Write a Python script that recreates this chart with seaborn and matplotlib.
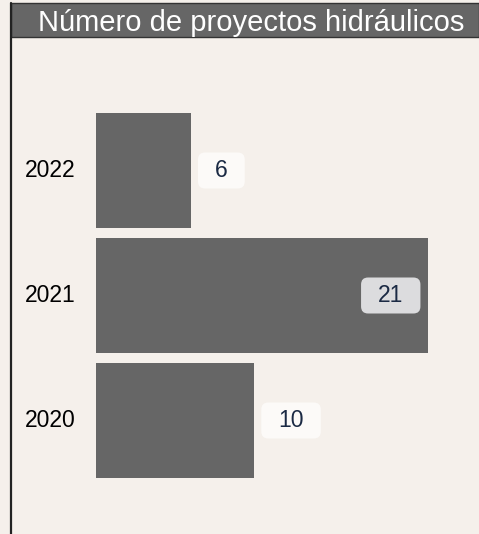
import matplotlib
matplotlib.use("Agg")
import matplotlib.pyplot as plt
import matplotlib.transforms as mtransforms
from matplotlib.patches import FancyBboxPatch, Rectangle
from matplotlib.lines import Line2D
import seaborn as sns
import pandas as pd

# Data
YEARS = ["2022", "2021", "2020"]
PROJECTS = [6, 21, 10]
TITLE = "Número de proyectos hidráulicos"

# Style
BG = "#f5f0eb"
BAR = "#666666"
LABEL_TEXT = "#1b2a44"
BOX_OUT = "#fcfaf8"
BOX_IN = "#dcdcde"
W, H, DPI = 479, 534, 100

sns.set_theme(style="white")
plt.rcParams["font.family"] = ["Liberation Sans", "DejaVu Sans"]

fig = plt.figure(figsize=(W / DPI, H / DPI), dpi=DPI, facecolor=BG)

# axes in pixel coordinates: bars start at x=96, plot area below title bar
ax = fig.add_axes([96 / W, 0, (W - 96) / W, (H - 37) / H])
ax.set_facecolor(BG)

df = pd.DataFrame({"year": YEARS, "projects": PROJECTS})
sns.barplot(data=df, x="projects", y="year", orient="h", color=BAR,
            saturation=1, width=0.92, linewidth=0, ax=ax)

ax.set_xlim(0, (W - 96) / 15.83)
ax.set_ylim(2.908, -1.068)
ax.set_xlabel("")
ax.set_ylabel("")
ax.set_xticks([])
ax.set_yticks([])
for s in ax.spines.values():
    s.set_visible(False)

# year labels at fixed pixel x
year_trans = mtransforms.blended_transform_factory(
    mtransforms.IdentityTransform(), ax.transData)
for i, y in enumerate(YEARS):
    ax.text(25, i, y, transform=year_trans, ha="left", va="center",
            fontsize=16.5, color="black", clip_on=False)

# value labels with rounded boxes
vmax = max(PROJECTS)
texts = []
for i, v in enumerate(PROJECTS):
    inside = v == vmax
    off = -25 if inside else 24
    t = ax.annotate(str(v), xy=(v, i), xytext=(off * 72 / DPI, 0),
                    textcoords="offset points",
                    ha="right" if inside else "left", va="center",
                    fontsize=16.5, color=LABEL_TEXT, zorder=6)
    texts.append((t, inside))

fig.canvas.draw()
renderer = fig.canvas.get_renderer()
for t, inside in texts:
    bb = t.get_window_extent(renderer)
    cx = (bb.x0 + bb.x1) / 2
    cy = (bb.y0 + bb.y1) / 2
    bw = bb.width + 34
    bh = 36
    patch = FancyBboxPatch((cx - bw / 2, cy - bh / 2), bw, bh,
                           boxstyle="round,pad=0,rounding_size=7",
                           transform=mtransforms.IdentityTransform(),
                           facecolor=BOX_IN if inside else BOX_OUT,
                           edgecolor="none", zorder=5, clip_on=False)
    ax.add_patch(patch)

# title bar and left frame line
fig.add_artist(Rectangle((11 / W, (H - 37) / H), (W - 11) / W, 34 / H,
                         transform=fig.transFigure, facecolor=BAR,
                         edgecolor="#333333", linewidth=1))
fig.add_artist(Line2D([11 / W, 11 / W], [0, (H - 3) / H],
                      transform=fig.transFigure, color="#222222", linewidth=1.6))
fig.text((38 + 465) / 2 / W, (H - 31) / H, TITLE, ha="center", va="baseline",
         fontsize=21, color="white")

fig.savefig("out.png", dpi=DPI, facecolor=BG)
